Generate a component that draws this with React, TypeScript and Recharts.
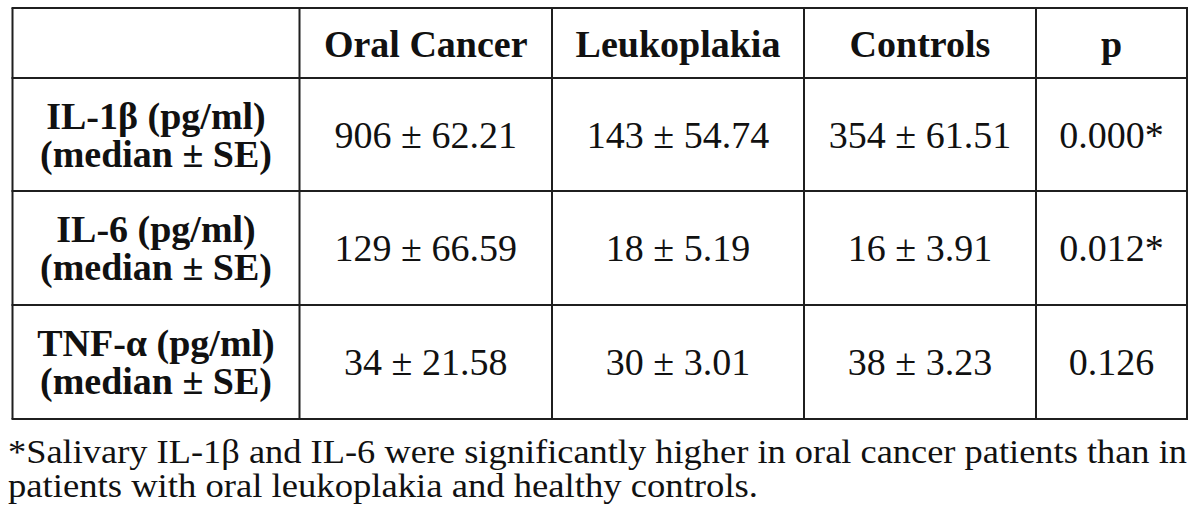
import React from "react";
import { ScatterChart, Scatter, XAxis, YAxis, ReferenceLine } from "recharts";

// ---- data ----
const columns = ["Oral Cancer", "Leukoplakia", "Controls", "p"];
const markers = ["IL-1β (pg/ml)", "IL-6 (pg/ml)", "TNF-α (pg/ml)"];
const statLabel = "(median ± SE)";
const oralCancerMedian = [906, 129, 34];
const oralCancerSE = [62.21, 66.59, 21.58];
const leukoplakiaMedian = [143, 18, 30];
const leukoplakiaSE = [54.74, 5.19, 3.01];
const controlsMedian = [354, 16, 38];
const controlsSE = [61.51, 3.91, 3.23];
const pValues = ["0.000*", "0.012*", "0.126"];
const footnoteLines = [
  "*Salivary IL-1β and IL-6 were significantly higher in oral cancer patients than in",
  "patients with oral leukoplakia and healthy controls.",
];

// ---- layout (pixels in chart coordinates) ----
const W = 1200;
const H = 524;
const colEdges = [12.5, 299.5, 552, 804, 1036, 1187];
const rowEdges = [8, 78, 191, 305, 419];
const FONT = "Liberation Serif";
const FS = 38;
const footY = [463, 497];
const footLen = [1179, 750];

const fmt = (m: number, se: number) => `${m} ± ${se.toFixed(2)}`;

type Cell = { x: number; y: number; text: string; sub?: string; bold: boolean; header?: boolean };

const mid = (a: number[], i: number) => (a[i] + a[i + 1]) / 2;

const cells: Cell[] = [];
columns.forEach((c, ci) => {
  cells.push({ x: mid(colEdges, ci + 1), y: mid(rowEdges, 0), text: c, bold: true, header: true });
});
markers.forEach((mk, ri) => {
  const cy = mid(rowEdges, ri + 1);
  cells.push({ x: mid(colEdges, 0), y: cy, text: mk, sub: statLabel, bold: true });
  cells.push({ x: mid(colEdges, 1), y: cy, text: fmt(oralCancerMedian[ri], oralCancerSE[ri]), bold: false });
  cells.push({ x: mid(colEdges, 2), y: cy, text: fmt(leukoplakiaMedian[ri], leukoplakiaSE[ri]), bold: false });
  cells.push({ x: mid(colEdges, 3), y: cy, text: fmt(controlsMedian[ri], controlsSE[ri]), bold: false });
  cells.push({ x: mid(colEdges, 4), y: cy, text: pValues[ri], bold: false });
});

const footData = footnoteLines.map((t, i) => ({ x: 8, y: footY[i], text: t, len: footLen[i] }));

const CellText = (props: any) => {
  const { cx, cy, payload } = props;
  if (cx == null || cy == null) return null;
  const p = payload as Cell;
  if (p.sub) {
    return (
      <text textAnchor="middle" style={{ fontFamily: FONT, fontSize: FS, fontWeight: 700 }} fill="#111">
        <tspan x={cx} y={cy - 6}>{p.text}</tspan>
        <tspan x={cx} y={cy + 32}>{p.sub}</tspan>
      </text>
    );
  }
  return (
    <text
      x={cx}
      y={cy + (p.header ? 13.5 : 13)}
      textAnchor="middle"
      style={{ fontFamily: FONT, fontSize: FS, fontWeight: p.bold ? 700 : 400 }}
      fill="#111"
    >
      {p.text}
    </text>
  );
};

const FootText = (props: any) => {
  const { cx, cy, payload } = props;
  if (cx == null || cy == null) return null;
  return (
    <text
      x={cx}
      y={cy}
      textAnchor="start"
      style={{ fontFamily: FONT, fontSize: 34 }}
      fill="#111"
      textLength={payload.len}
      lengthAdjust="spacingAndGlyphs"
    >
      {payload.text}
    </text>
  );
};

const LINE = "#1f1f1f";

export default function App() {
  return (
    <div style={{ position: "absolute", left: 0, top: 0, width: W, height: H, background: "#fff" }}>
      <ScatterChart width={W} height={H} margin={{ top: 0, right: 0, bottom: 0, left: 0 }}>
        <XAxis type="number" dataKey="x" domain={[0, W]} hide allowDataOverflow />
        <YAxis type="number" dataKey="y" domain={[0, H]} reversed hide allowDataOverflow />
        {rowEdges.map((y, i) => (
          <ReferenceLine
            key={"h" + i}
            segment={[{ x: colEdges[0] - 1, y }, { x: colEdges[colEdges.length - 1] + 1, y }]}
            stroke={LINE}
            strokeWidth={2}
            ifOverflow="visible"
          />
        ))}
        {colEdges.map((x, i) => (
          <ReferenceLine
            key={"v" + i}
            segment={[{ x, y: rowEdges[0] }, { x, y: rowEdges[rowEdges.length - 1] }]}
            stroke={LINE}
            strokeWidth={2}
            ifOverflow="visible"
          />
        ))}
        <Scatter data={cells} shape={CellText} isAnimationActive={false} />
        <Scatter data={footData} shape={FootText} isAnimationActive={false} />
      </ScatterChart>
    </div>
  );
}
